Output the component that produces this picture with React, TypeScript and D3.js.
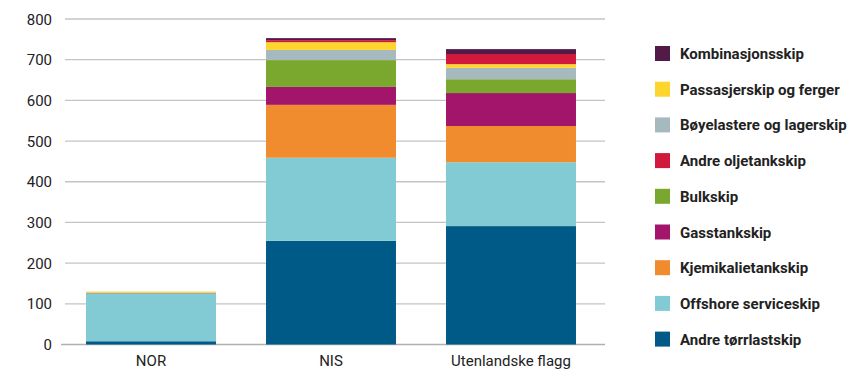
import React, { useEffect, useRef } from 'react'
import * as d3 from 'd3'

// fleet categories along the x axis
const flags = ['NOR', 'NIS', 'Utenlandske flagg']

// ship types, bottom of the stack first
const shipTypes = [
  'Andre tørrlastskip',
  'Offshore serviceskip',
  'Kjemikalietankskip',
  'Gasstankskip',
  'Bulkskip',
  'Bøyelastere og lagerskip',
  'Passasjerskip og ferger',
  'Andre oljetankskip',
  'Kombinasjonsskip',
]

const colors = ['#005a87', '#82cbd4', '#f08b2e', '#a2156a', '#7aa72d', '#a6b9bf', '#fed52c', '#d0193b', '#521a47']

// values per ship type, one number per flag (NOR, NIS, Utenlandske flagg)
const andreTorrlast = [8, 255, 291]
const offshore = [118, 204, 157]
const kjemikalie = [0, 130, 89]
const gasstank = [1, 44, 81]
const bulk = [0, 66, 34]
const boyelastere = [0, 25, 28]
const passasjer = [3, 19, 9]
const andreOljetank = [0, 5, 25]
const kombinasjon = [0, 5, 12]

const yTicks = [0, 100, 200, 300, 400, 500, 600, 700, 800]

// legend, top-down
const legendOrder = [
  'Kombinasjonsskip',
  'Passasjerskip og ferger',
  'Bøyelastere og lagerskip',
  'Andre oljetankskip',
  'Bulkskip',
  'Gasstankskip',
  'Kjemikalietankskip',
  'Offshore serviceskip',
  'Andre tørrlastskip',
]

const App = () => {
  const ref = useRef<SVGSVGElement>(null)

  useEffect(() => {
    const svg = d3.select(ref.current)
    svg.selectAll('*').remove()

    const series = [andreTorrlast, offshore, kjemikalie, gasstank, bulk, boyelastere, passasjer, andreOljetank, kombinasjon]
    const rows = flags.map((f, i) => {
      const row: any = { flag: f }
      shipTypes.forEach((t, j) => { row[t] = series[j][i] })
      return row
    })

    const color = d3.scaleOrdinal<string, string>().domain(shipTypes).range(colors)

    const x = d3.scaleBand().domain(flags).range([61, 601]).paddingInner(0.278).paddingOuter(0.139)
    const y = d3.scaleLinear().domain([0, 800]).range([344.5, 19])

    const font = 'Roboto, "Noto Sans", sans-serif'

    // gridlines
    svg.append('g')
      .selectAll('line')
      .data(yTicks.filter(d => d > 0))
      .enter().append('line')
      .attr('x1', 65).attr('x2', 605)
      .attr('y1', d => y(d)).attr('y2', d => y(d))
      .attr('stroke', '#c4c4c4').attr('stroke-width', 1.3)

    svg.append('line')
      .attr('x1', 61).attr('x2', 605)
      .attr('y1', y(0)).attr('y2', y(0))
      .attr('stroke', '#b0b0b0').attr('stroke-width', 1.5)

    // y tick labels
    svg.append('g')
      .selectAll('text')
      .data(yTicks)
      .enter().append('text')
      .attr('x', 52)
      .attr('y', d => y(d) + 5.5)
      .attr('text-anchor', 'end')
      .attr('font-family', font)
      .attr('font-size', 15)
      .attr('fill', '#222')
      .text(d => d)

    const stack = d3.stack().keys(shipTypes)(rows)

    svg.append('g')
      .selectAll('g')
      .data(stack)
      .enter().append('g')
      .attr('fill', d => color(d.key))
      .selectAll('rect')
      .data(d => d)
      .enter().append('rect')
      .attr('x', (d: any) => x(d.data.flag)!)
      .attr('width', x.bandwidth())
      .attr('y', d => y(d[1]))
      .attr('height', d => y(d[0]) - y(d[1]))

    // x labels
    svg.append('g')
      .selectAll('text')
      .data(flags)
      .enter().append('text')
      .attr('x', d => x(d)! + x.bandwidth() / 2)
      .attr('y', 365.5)
      .attr('text-anchor', 'middle')
      .attr('font-family', font)
      .attr('font-size', 15)
      .attr('fill', '#222')
      .text(d => d)

    // legend
    const legend = svg.append('g')
      .selectAll('g')
      .data(legendOrder)
      .enter().append('g')
      .attr('transform', (d, i) => 'translate(655,' + (46 + i * 35.7) + ')')

    legend.append('rect')
      .attr('width', 15).attr('height', 15)
      .attr('fill', d => color(d))

    legend.append('text')
      .attr('x', 25)
      .attr('y', 13)
      .attr('font-family', font)
      .attr('font-weight', 'bold')
      .attr('font-size', 15)
      .attr('fill', '#222')
      .text(d => d)
  }, [])

  return (
    <svg ref={ref} width={857} height={370} style={{ position: 'absolute', left: 0, top: 0 }} />
  )
}

export default App
